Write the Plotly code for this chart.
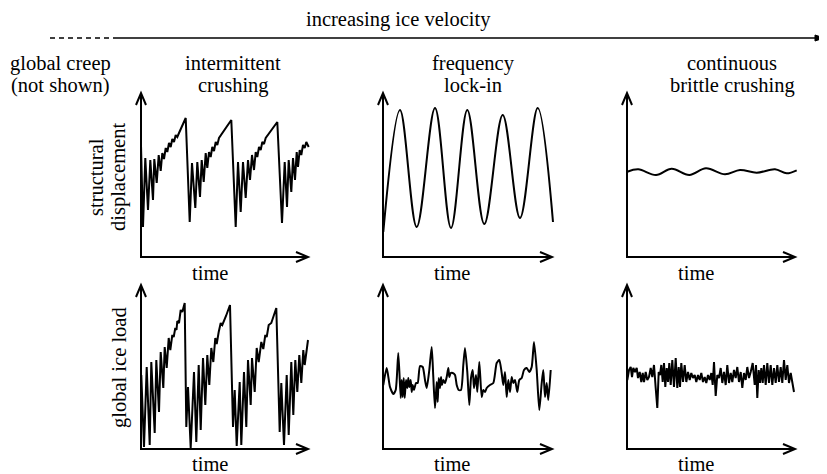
import plotly.graph_objects as go

# ---------------- data (arbitrary units) ----------------
# intermittent crushing - structural displacement
ic_disp_t = [0, 2, 4.3, 7, 9.3, 12, 13.3, 15.7, 17.7, 19.7, 21.3, 23, 24.7, 26.3, 28, 29.7, 31.3, 33, 34.7, 36.3, 38, 44.7, 48.7,
             51, 54.3, 56.3, 59, 60.7, 62.7, 64.7, 66.3, 68, 69.7, 71.3, 73, 74.7, 76.3, 78, 90.3, 94.7,
             97, 99.7, 102, 104.7, 107, 109, 111, 113, 114.7, 116.3, 118, 119.7, 121.3, 123, 124.7, 136.3, 141,
             143.7, 146, 147.7, 150.3, 152, 154, 155.7, 157, 158.7, 160.3, 162, 163.7, 165.3, 167.7]
ic_disp_v = [112, 30, 99, 47, 97, 57, 98, 74, 102, 86, 104, 98, 109, 105, 114, 110, 118, 115, 122, 120, 124, 139, 35,
             94, 49, 95, 60, 97, 75, 104, 89, 105, 100, 110, 106, 115, 112, 119, 137, 30,
             95, 45, 95, 59, 97, 77, 102, 87, 105, 100, 110, 107, 115, 113, 119, 135, 34,
             95, 50, 97, 65, 99, 77, 105, 90, 107, 102, 112, 109, 115, 110]

# intermittent crushing - global ice load
ic_load_t = [0.3, 3, 5.7, 8.7, 10.3, 13.7, 15.3, 18, 19.7, 22.3, 23.7, 25.7, 27.7, 29.3, 31.3, 32.7, 34.3, 35.5, 36.3, 38, 39.7, 41.3, 43.7, 45.3,
             47, 49.7, 53, 55.3, 57.7, 59.7, 62, 64.3, 66.3, 68.3, 70.3, 72.3, 74.3, 75.7, 77.7, 79.7, 81.3, 83, 85, 89, 92,
             93.7, 95.7, 98.7, 100.3, 103, 105.3, 107, 109.7, 111, 113.7, 115.7, 117.7, 120.3, 122.3, 124.3, 125.7, 127.7, 130.3, 135.3, 138.7,
             140.3, 143, 145.7, 147.7, 150.3, 152.3, 154.3, 156.3, 158.3, 160.3, 162.3, 163.7, 167]
ic_load_v = [74, 2, 82, 4, 87, 16, 89, 37, 97, 61, 102, 81, 111, 99, 114, 112, 121, 119, 128, 126, 139, 137, 146, 22,
             62, 1, 77, 7, 84, 19, 91, 44, 94, 64, 101, 87, 111, 105, 117, 126, 124, 129, 133, 144, 22,
             59, 3, 67, 4, 77, 22, 89, 44, 91, 57, 101, 87, 107, 100, 114, 112, 124, 126, 141, 17,
             66, 4, 74, 14, 87, 34, 89, 57, 94, 66, 99, 84, 109]

# frequency lock-in - structural displacement (extrema)
fl_disp_t = [0.3, 17, 33.7, 52, 68, 84.3, 101.3, 119.7, 137, 154.7, 170]
fl_disp_v = [25, 147, 30, 149, 29, 147, 33, 142, 39, 149, 35]

# frequency lock-in - global ice load
fl_load_t = [0.3, 3.7, 7, 10.3, 12.7, 15.3, 17.7, 18.7, 19.7, 20.7, 21.7, 23, 24.3, 25.3, 26.3, 27.7, 28.7, 29.7, 31, 33, 34.7,
             37, 39.7, 42, 43.7, 46.3, 48.7, 50.3, 52, 53.7, 54.7, 55.7, 57, 58, 59, 60.3, 62, 63.7, 65.3, 66.3, 67.7, 69.7,
             72, 73.7, 75.7, 78, 80.3, 82, 84.3, 86.3, 88, 89.7, 91, 93, 94.3, 96.3, 98.7, 100.3, 102, 103.7, 107, 110.3,
             113.7, 116.3, 118.7, 120.3, 122, 123.7, 125.3, 127, 128.7, 130.3, 132, 134.3, 136.3, 138.7, 141, 143.7, 146.3,
             148.7, 151, 153.7, 156.3, 158.7, 160.3, 162, 163.7, 165.3, 167.7]
fl_load_v = [64, 81, 62, 55, 59, 96, 51, 69, 52, 71, 51, 69, 61, 71, 62, 69, 57, 64, 59, 66, 66,
             83, 82, 69, 61, 79, 102, 72, 41, 67, 47, 71, 61, 72, 64, 69, 66, 72, 81, 72, 76, 76,
             74, 64, 59, 59, 84, 101, 77, 44, 71, 79, 61, 74, 57, 87, 52, 59, 57, 61, 64, 66,
             86, 89, 76, 64, 77, 52, 69, 57, 72, 66, 69, 57, 69, 71, 79, 81, 77,
             82, 107, 79, 39, 66, 79, 52, 66, 49, 79]

# continuous brittle crushing - structural displacement
cb_disp_t = [0.3, 11.3, 29, 44.7, 62.3, 79, 98, 113, 129.7, 148, 159.7, 169.7]
cb_disp_v = [85.3, 87.7, 82, 88.3, 82, 88.7, 82.7, 87, 84.3, 87.7, 83.7, 86.7]

# continuous brittle crushing - global ice load
cb_load_t = [0.3, 2, 3.7, 5, 6.3, 8, 9.7, 11, 12.7, 14.3, 15.7, 17, 18.7, 20.3, 22, 23.7, 25.3, 27, 28.7, 30.3,
             31.7, 33, 34.3, 35.7, 37, 38.3, 39.7, 41, 42.3, 43.7, 45.3, 47, 48.7, 50.3, 51.7, 53, 54.3, 56, 57.7, 59.3,
             61, 62.7, 64.3, 66, 67.7, 69.3, 71, 72.7, 74.3, 76, 77.7, 79.3, 81, 82.7, 84.3, 85.7, 87, 88.7, 90.3, 92,
             93.7, 95.3, 97, 98.7, 100.3, 102, 103.7, 105.3, 107, 108.7, 110.3, 112, 113.7, 115.3, 117, 118.7, 120.3, 122,
             123.7, 125.7, 127.7, 129, 130.3, 131.7, 133, 134.3, 135.7, 137, 138.7, 140.3, 142, 143.7, 145.3, 147, 148.7,
             150.3, 152, 153.7, 155.3, 157, 158.7, 160.3, 162, 163.7, 167]
cb_load_v = [69, 79, 82, 72, 81, 77, 81, 71, 77, 67, 76, 67, 77, 69, 72, 81, 72, 84, 61, 41,
             77, 74, 84, 67, 86, 62, 81, 67, 86, 64, 89, 62, 91, 61, 82, 62, 86, 67, 84, 67,
             77, 69, 76, 71, 74, 67, 74, 69, 76, 67, 72, 66, 74, 69, 76, 64, 87, 53, 74, 71,
             81, 66, 77, 64, 84, 66, 76, 67, 79, 71, 82, 67, 77, 61, 76, 69, 82, 71,
             77, 86, 64, 84, 51, 79, 66, 81, 66, 84, 64, 86, 66, 84, 64, 81, 66,
             84, 67, 82, 66, 89, 69, 84, 66, 76, 57]

col_titles = [["global creep", "(not shown)"], ["intermittent", "crushing"],
              ["frequency", "lock-in"], ["continuous", "brittle crushing"]]
row_titles = [["structural", "displacement"], ["global ice load"]]
x_title = "time"
top_title = "increasing ice velocity"

# ---------------- layout geometry (page pixels) ----------------
PAGE_W, PAGE_H = 827, 474
OFF = 8                               # default page margin of the html body
W, H = PAGE_W - OFF, PAGE_H - OFF     # figure size so that it fits the window
FONT = dict(family="Liberation Serif", size=20.5, color="black")
col_x0 = [141, 383, 627]          # y-axis position of each column
col_len = [167, 169, 168]         # x-axis length to arrow tip
row_y0 = [257, 449]               # x-axis position of each row
ax_h = 164                        # y-axis length
PAD_L, PAD_R, PAD_B, PAD_T = 10, 180, 10, 172

def px(x):
    return (x - OFF) / W

def py(y):
    return 1 - (y - OFF) / H

fig = go.Figure()
panels = [
    (0, 0, ic_disp_t, ic_disp_v, "linear"),
    (0, 1, fl_disp_t, fl_disp_v, "spline"),
    (0, 2, cb_disp_t, cb_disp_v, "spline"),
    (1, 0, ic_load_t, ic_load_v, "linear"),
    (1, 1, fl_load_t, fl_load_v, "spline"),
    (1, 2, cb_load_t, cb_load_v, "linear"),
]

shapes = []
for i, (r, c, t, v, shp) in enumerate(panels):
    k = i + 1
    xa = "x" if k == 1 else f"x{k}"
    ya = "y" if k == 1 else f"y{k}"
    line = dict(color="black", width=2, shape=shp)
    if shp == "spline":
        line["smoothing"] = 1.0 if r == 0 else 0.6
    fig.add_trace(go.Scatter(x=t, y=v, mode="lines", line=line,
                             xaxis=xa, yaxis=ya, showlegend=False, hoverinfo="skip"))
    x0 = col_x0[c]
    y0 = row_y0[r]
    xkey = "xaxis" if k == 1 else f"xaxis{k}"
    ykey = "yaxis" if k == 1 else f"yaxis{k}"
    fig.layout[xkey] = dict(domain=[px(x0 - PAD_L), px(x0 + PAD_R)], range=[-PAD_L, PAD_R],
                            visible=False, anchor=ya, fixedrange=True)
    fig.layout[ykey] = dict(domain=[py(y0 + PAD_B), py(y0 - PAD_T)], range=[-PAD_B, PAD_T],
                            visible=False, anchor=xa, fixedrange=True)
    L = col_len[c]
    ax_line = dict(color="black", width=2)
    shapes.append(dict(type="path", xref=xa, yref=ya,
                       path=f"M 0,{ax_h} L 0,0 L {L},0", line=ax_line))
    shapes.append(dict(type="path", xref=xa, yref=ya,
                       path=f"M -5,{ax_h-12} L 0,{ax_h} L 5,{ax_h-12}", line=ax_line))
    shapes.append(dict(type="path", xref=xa, yref=ya,
                       path=f"M {L-12},5 L {L},0 L {L-12},-5", line=ax_line))

# top velocity arrow
arrow_y = 38
shapes.append(dict(type="line", xref="paper", yref="paper", x0=px(50), x1=px(116),
                   y0=py(arrow_y), y1=py(arrow_y), line=dict(color="black", width=1.5, dash="5px,4px")))
shapes.append(dict(type="line", xref="paper", yref="paper", x0=px(116), x1=px(818),
                   y0=py(arrow_y), y1=py(arrow_y), line=dict(color="black", width=1.5)))
shapes.append(dict(type="path", xref="paper", yref="paper",
                   path=f"M {px(824)},{py(arrow_y)} L {px(815)},{py(arrow_y-3)} L {px(815)},{py(arrow_y+3)} Z",
                   fillcolor="black", line=dict(color="black", width=1)))

annotations = []
def txt(s, x, y, angle=0):
    annotations.append(dict(text=s, x=px(x), y=py(y), xref="paper", yref="paper",
                            showarrow=False, xanchor="center", yanchor="middle",
                            textangle=angle, font=FONT))

txt(top_title, 398, 19)
col_cx = [60, 233, 473, 732]
for cx, (l1, l2) in zip(col_cx, col_titles):
    txt(l1, cx, 63)
    txt(l2, cx, 85)
for c in range(3):
    cx = col_x0[c] + col_len[c] / 2 - 15
    txt(x_title, cx, 273)
    txt(x_title, cx, 464)
txt(row_titles[0][0], 96, 177, -90)
txt(row_titles[0][1], 118, 177, -90)
txt(row_titles[1][0], 119, 367, -90)

fig.update_layout(width=W, height=H, margin=dict(l=0, r=0, t=0, b=0),
                  paper_bgcolor="white", plot_bgcolor="rgba(0,0,0,0)",
                  shapes=shapes, annotations=annotations, showlegend=False)
fig.write_html("out.html")
